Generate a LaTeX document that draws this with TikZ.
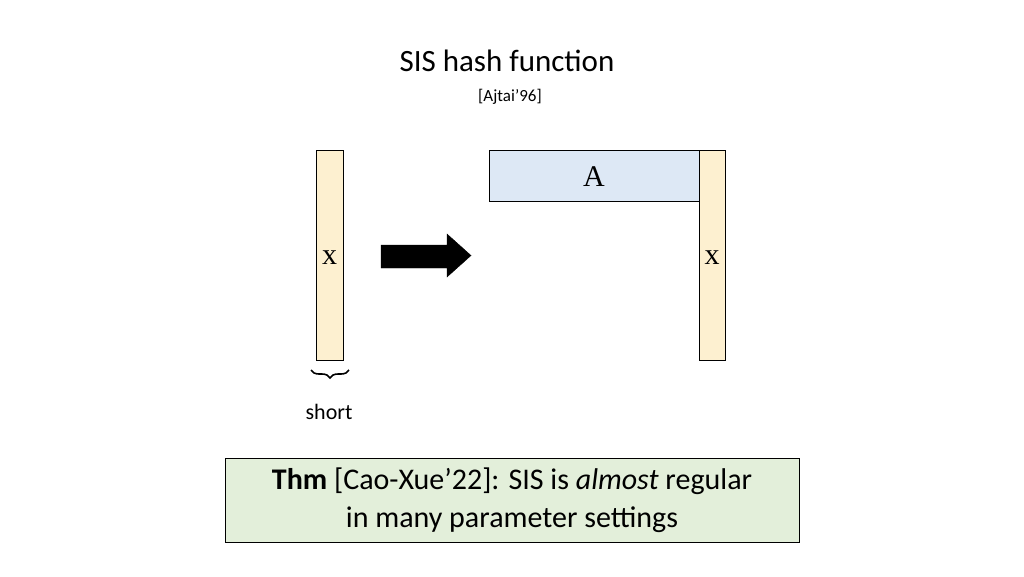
\documentclass[tikz,border=0pt]{standalone}
\usepackage{fontspec}
\setmainfont{Carlito}
\newfontfamily\serifA{Liberation Serif}
\usetikzlibrary{decorations.pathreplacing}
\definecolor{ybar}{RGB}{253,240,208}
\definecolor{bluebox}{RGB}{221,232,245}
\definecolor{greenbox}{RGB}{227,239,218}
\begin{document}
\begin{tikzpicture}[x=1pt,y=-1pt,
  bar/.style={draw=black,fill=ybar,line width=0.8pt},
  lbl/.style={font=\serifA\fontsize{30}{30}\selectfont}]
\useasboundingbox (0,0) rectangle (1024,576);
\node (title) at (507,61) {\fontsize{31}{31}\selectfont SIS hash function};
\node (cite) at (510,97) {\fontsize{17}{17}\selectfont [Ajtai’96]};
\draw[bar] (316,150) rectangle (343,360);
\node[lbl] (x1) at (329.5,258) {x};
\draw[fill=black] (381,245) -- (447,245) -- (447,234) -- (471,255.5) -- (447,277) -- (447,268) -- (381,268) -- cycle;
\draw[draw=black,fill=bluebox,line width=0.8pt] (489,150) rectangle (699,201);
\node[lbl] (A) at (594,177) {A};
\draw[bar] (699,150) rectangle (725,360);
\node[lbl] (x2) at (712,258) {x};
\draw[line width=1.6pt,decorate,decoration={brace,mirror,amplitude=8pt}] (311,370) -- (349,370);
\node (short) at (329,412) {\fontsize{22}{22}\selectfont short};
\draw[draw=black,fill=greenbox,line width=0.8pt] (225,458) rectangle (799,542);
\node[align=center,font=\fontsize{30}{38}\selectfont] (thm) at (512,500) {\textbf{Thm} [Cao-Xue’22]: SIS is \textit{almost} regular\\in many parameter settings};
\end{tikzpicture}
\end{document}
